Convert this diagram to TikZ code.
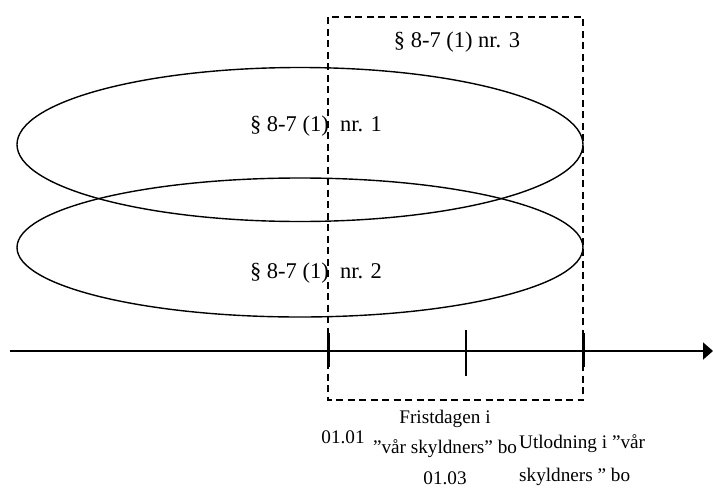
\documentclass[tikz,border=0pt]{standalone}
\usepackage{fontspec}
\setmainfont{Liberation Serif}
\usetikzlibrary{positioning, arrows.meta, shapes.geometric}

\begin{document}
\begin{tikzpicture}[
    x=1pt, y=-1pt,
    zone/.style={ellipse, draw, line width=1.4pt, minimum width=566pt, minimum height=148pt, inner sep=0pt},
    frame/.style={draw, line width=1.3pt, dash pattern=on 7pt off 4.5pt},
    axis/.style={draw, line width=1.8pt, -{Triangle[length=10pt, width=17pt]}},
    bigtick/.style={draw, line width=3pt},
    smalltick/.style={draw, line width=1.4pt},
    lbl/.style={font=\fontsize{22.5}{26}\selectfont, inner sep=0pt},
    datelbl/.style={font=\fontsize{19.2}{31}\selectfont, inner sep=0pt, align=center, anchor=base},
]
\useasboundingbox (0,0) rectangle (713,488);

% the two ellipses
\node[zone, minimum height=154pt] (nr1) at (300,144.5) {};
\node[zone, minimum height=139pt] (nr2) at (300,247.5) {};

% dashed frame
\coordinate (fTL) at (328,17);
\coordinate (fBR) at (583,400);
\draw[frame] (fTL) rectangle (fBR);

% labels
\node[lbl] (lbl3) at (457,42) {§ 8-7 (1) nr. 3};
\node[lbl] (lbl1) at (316,126) {§ 8-7 (1)\ \ nr. 1};
\node[lbl] (lbl2) at (316,273) {§ 8-7 (1)\ \ nr. 2};

% time axis
\coordinate (start) at (10,351);
\coordinate (end) at (713,351);
\draw[axis] (start) -- (end);
\coordinate (t1a) at (328,333); \coordinate (t1b) at (328,367);
\coordinate (t2a) at (466,330); \coordinate (t2b) at (466,376);
\coordinate (t3a) at (583,333); \coordinate (t3b) at (583,367);
\draw[bigtick] (t1a) -- (t1b);
\draw[smalltick] (t2a) -- (t2b);
\draw[bigtick] (t3a) -- (t3b);

% dates
\node[datelbl] (d1) at (343,443) {01.01};
\node[datelbl, font=\fontsize{19.2}{30.5}\selectfont] (d2) at (445,484) {Fristdagen i\\”vår skyldners” bo\\01.03};
\node[datelbl, anchor=base west, align=left, font=\fontsize{19.2}{33}\selectfont] (d3) at (519,481) {Utlodning i ”vår\\skyldners ” bo};
\end{tikzpicture}
\end{document}
